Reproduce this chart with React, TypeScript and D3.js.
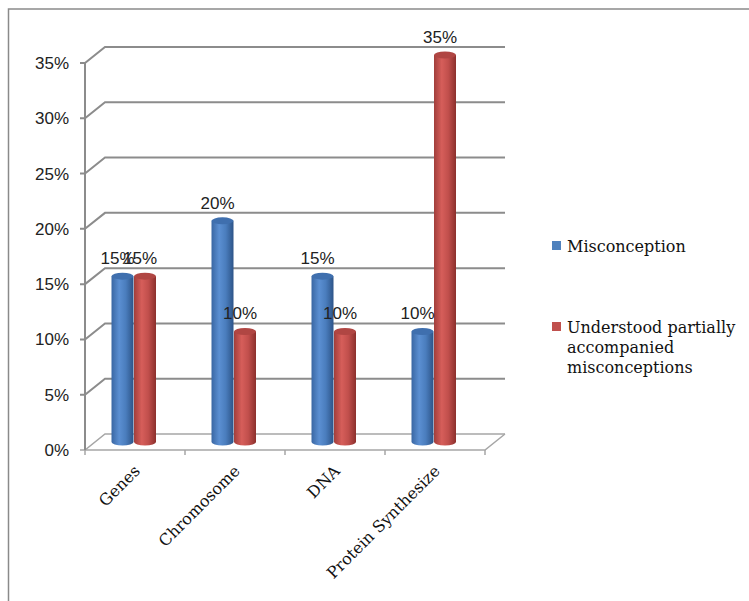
import React from "react";
import * as d3 from "d3";

const categories = ["Genes", "Chromosome", "DNA", "Protein Synthesize"];
const misconception = [0.15, 0.2, 0.15, 0.1];
const understoodPartially = [0.15, 0.1, 0.1, 0.35];
const yTicks = [0, 0.05, 0.1, 0.15, 0.2, 0.25, 0.3, 0.35];
const seriesNames = ["Misconception", "Understood partially accompanied misconceptions"];
const legendLines = [["Misconception"], ["Understood partially", "accompanied", "misconceptions"]];

const W = 749;
const H = 601;
const DX = 20;
const DY = -16;

export default function App() {
  const y = d3.scaleLinear().domain([0, 0.35]).range([450, 63]);
  const x = d3.scaleBand<string>().domain(categories).range([85, 485]);
  const fmt = d3.format(".0%");
  const series = [misconception, understoodPartially];
  const offsets = [-12.5, 10];
  const barW = 22;
  const rx = barW / 2;
  const ry = 3.5;
  const grads = ["blueGrad", "redGrad"];
  const capFill = ["#3f6fae", "#b04643"];
  const legendColors = ["#4f81bd", "#c0504d"];
  const numFont = "'Liberation Sans', Arial, sans-serif";
  const txtFont = "'DejaVu Serif', serif";

  const x0 = x.range()[0];
  const x1 = x.range()[1];

  return (
    <svg width={W} height={H} style={{ position: "absolute", left: 0, top: 0 }}>
      <defs>
        <linearGradient id="blueGrad" x1="0" x2="1" y1="0" y2="0">
          <stop offset="0" stopColor="#3a67a3" />
          <stop offset="0.35" stopColor="#5b8fd2" />
          <stop offset="0.65" stopColor="#4a7dbd" />
          <stop offset="1" stopColor="#2d5488" />
        </linearGradient>
        <linearGradient id="redGrad" x1="0" x2="1" y1="0" y2="0">
          <stop offset="0" stopColor="#a13e3b" />
          <stop offset="0.35" stopColor="#d65e5a" />
          <stop offset="0.65" stopColor="#c14f4c" />
          <stop offset="1" stopColor="#8c302d" />
        </linearGradient>
      </defs>
      <rect width={W} height={H} fill="#fff" />
      {/* outer frame */}
      <path d={`M8.5,${H} L8.5,9 L${W},9`} fill="none" stroke="#8a8a8a" strokeWidth={1.5} />

      {/* gridlines with 3D wall offset */}
      {yTicks.map((t, i) => {
        const yy = y(t);
        const stroke = t === 0 ? "#a6a6a6" : "#8c8c8c";
        return (
          <g key={i}>
            <path
              d={`M${x0 - 5},${yy} L${x0},${yy} L${x0 + DX},${yy + DY} L${x1 + DX},${yy + DY}`}
              fill="none"
              stroke={stroke}
              strokeWidth={t === 0 ? 1.5 : 2}
            />
            <text
              x={69}
              y={yy}
              dy="0.35em"
              textAnchor="end"
              fontFamily={numFont}
              fontSize={17}
              fill="#222"
            >
              {fmt(t)}
            </text>
          </g>
        );
      })}
      {/* floor */}
      <path
        d={`M${x0},${y(0)} L${x1},${y(0)} L${x1 + DX},${y(0) + DY}`}
        fill="none"
        stroke="#a6a6a6"
        strokeWidth={1.5}
      />
      {/* vertical axis */}
      <line x1={x0} x2={x0} y1={y(0)} y2={y(0.35)} stroke="#8c8c8c" strokeWidth={2} />
      {/* category ticks */}
      {[...categories.map((c) => x(c) as number), x1].map((v, i) => (
        <line key={i} x1={v} x2={v} y1={y(0)} y2={y(0) + 5} stroke="#a6a6a6" strokeWidth={1.5} />
      ))}

      {/* cylinders */}
      {categories.map((c, ci) => {
        const center = (x(c) as number) + x.bandwidth() / 2;
        return (
          <g key={c}>
            {series.map((s, si) => {
              const cx = center + offsets[si];
              const top = y(s[ci]) + DY / 2;
              const bottom = y(0) + DY / 2;
              const l = cx - rx;
              const r = cx + rx;
              return (
                <g key={si}>
                  <path
                    d={`M${l},${top} L${l},${bottom} A${rx},${ry} 0 0 0 ${r},${bottom} L${r},${top} Z`}
                    fill={`url(#${grads[si]})`}
                  />
                  <ellipse cx={cx} cy={top} rx={rx} ry={ry} fill={capFill[si]} />
                </g>
              );
            })}
          </g>
        );
      })}

      {/* data labels */}
      {categories.map((c, ci) => {
        const center = (x(c) as number) + x.bandwidth() / 2;
        return series.map((s, si) => (
          <text
            key={`${c}-${si}`}
            x={center + offsets[si] - 5}
            y={y(s[ci]) + DY / 2 - 12}
            textAnchor="middle"
            fontFamily={numFont}
            fontSize={17}
            fill="#222"
          >
            {fmt(s[ci])}
          </text>
        ));
      })}

      {/* category labels */}
      {categories.map((c) => {
        const center = (x(c) as number) + x.bandwidth() / 2;
        return (
          <text
            key={c}
            transform={`translate(${center + 6},${472}) rotate(-45)`}
            textAnchor="end"
            fontFamily={txtFont}
            fontSize={16}
            fill="#111"
          >
            {c}
          </text>
        );
      })}

      {/* legend */}
      {seriesNames.map((n, i) => {
        const base = i === 0 ? 252 : 333;
        return (
          <g key={n}>
            <rect x={552} y={base - 11} width={9} height={9} fill={legendColors[i]} />
            {legendLines[i].map((ln, li) => (
              <text
                key={li}
                x={567}
                y={base + li * 20}
                fontFamily={txtFont}
                fontSize={16}
                fill="#111"
              >
                {ln}
              </text>
            ))}
          </g>
        );
      })}
    </svg>
  );
}
